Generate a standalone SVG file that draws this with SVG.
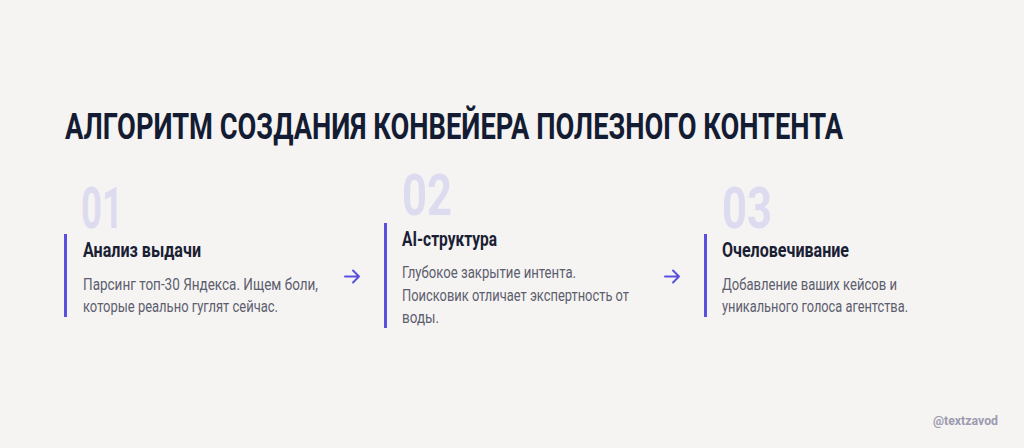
<svg xmlns="http://www.w3.org/2000/svg" width="1024" height="448" viewBox="0 0 1024 448">
  <style>
    .title { font-family: Roboto, "Liberation Sans", sans-serif; font-weight: 700; font-size: 30px; fill: #141c33; }
    .num { font-family: Roboto, "Liberation Sans", sans-serif; font-weight: 700; font-size: 58px; fill: #dddbf0; }
    .head { font-family: Roboto, "Liberation Sans", sans-serif; font-weight: 700; font-size: 20px; fill: #1a2033; }
    .body { font-family: Roboto, "Liberation Sans", sans-serif; font-weight: 400; font-size: 17px; fill: #5c5d6e; }
    .mark { font-family: Roboto, "Liberation Sans", sans-serif; font-weight: 700; font-size: 13px; fill: #9c9ab0; }
    .bar { fill: #5a50e0; }
    .arrow { fill: none; stroke: #5a50e0; stroke-width: 2; stroke-linecap: round; stroke-linejoin: round; }
  </style>
  <rect width="1024" height="448" fill="#f5f4f2"/>
  <text class="title" x="0" y="0" transform="translate(65,139) scale(1,1.2)" textLength="778" lengthAdjust="spacingAndGlyphs">АЛГОРИТМ СОЗДАНИЯ КОНВЕЙЕРА ПОЛЕЗНОГО КОНТЕНТА</text>

  <g id="step1">
    <text class="num" x="81" y="228" textLength="42" lengthAdjust="spacingAndGlyphs">01</text>
    <rect class="bar" x="64" y="234" width="3" height="83"/>
    <text class="head" x="83" y="257" textLength="118" lengthAdjust="spacingAndGlyphs">Анализ выдачи</text>
    <text class="body" x="83" y="290" textLength="235" lengthAdjust="spacingAndGlyphs">Парсинг топ-30 Яндекса. Ищем боли,</text>
    <text class="body" x="83" y="312" textLength="195" lengthAdjust="spacingAndGlyphs">которые реально гуглят сейчас.</text>
  </g>

  <g id="step2">
    <text class="num" x="402" y="215" textLength="50" lengthAdjust="spacingAndGlyphs">02</text>
    <rect class="bar" x="384" y="223" width="3" height="105"/>
    <text class="head" x="402" y="246" textLength="95" lengthAdjust="spacingAndGlyphs">AI-структура</text>
    <text class="body" x="402" y="278" textLength="174" lengthAdjust="spacingAndGlyphs">Глубокое закрытие интента.</text>
    <text class="body" x="402" y="301" textLength="227" lengthAdjust="spacingAndGlyphs">Поисковик отличает экспертность от</text>
    <text class="body" x="402" y="323" textLength="37" lengthAdjust="spacingAndGlyphs">воды.</text>
  </g>

  <g id="step3">
    <text class="num" x="722" y="228" textLength="50" lengthAdjust="spacingAndGlyphs">03</text>
    <rect class="bar" x="704" y="234" width="3" height="83"/>
    <text class="head" x="722" y="257" textLength="127" lengthAdjust="spacingAndGlyphs">Очеловечивание</text>
    <text class="body" x="722" y="290" textLength="175" lengthAdjust="spacingAndGlyphs">Добавление ваших кейсов и</text>
    <text class="body" x="722" y="312" textLength="186" lengthAdjust="spacingAndGlyphs">уникального голоса агентства.</text>
  </g>

  <g id="connectors">
    <path class="arrow" d="M345 276.5 H359 M353 270.5 L359 276.5 L353 282.5"/>
    <path class="arrow" d="M665 276.5 H679 M673 270.5 L679 276.5 L673 282.5"/>
  </g>

  <text class="mark" x="933" y="425" textLength="65" lengthAdjust="spacingAndGlyphs">@textzavod</text>
</svg>
